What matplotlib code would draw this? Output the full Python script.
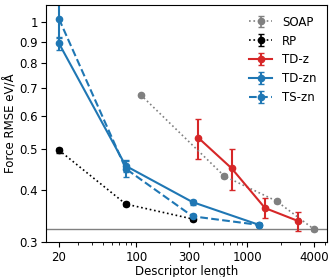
import numpy as np
import matplotlib.pyplot as plt
from matplotlib.ticker import FixedLocator, NullLocator, FixedFormatter

# SOAP
soap_x = [109, 620, 1830, 4000]
soap_y = [0.673, 0.431, 0.376, 0.322]
soap_e = [0.004, 0.004, 0.003, 0.002]
# RP
rp_x = [20, 80, 320]
rp_y = [0.497, 0.370, 0.341]
rp_e = [0.007, 0.004, 0.004]
# TD-z
tdz_x = [360, 720, 1440, 2880]
tdz_y = [0.532, 0.450, 0.362, 0.337]
tdz_e = [0.058, 0.050, 0.020, 0.017]
# TD-zn
tdzn_x = [20, 80, 320, 1280]
tdzn_y = [0.892, 0.456, 0.374, 0.330]
tdzn_e = [0.030, 0.015, 0.005, 0.003]
# TS-zn
tszn_x = [20, 80, 320, 1280]
tszn_y = [1.02, 0.449, 0.346, 0.330]
tszn_e = [0.10, 0.020, 0.005, 0.003]

ref_line = 0.322

yticks = [0.3, 0.4, 0.5, 0.6, 0.7, 0.8, 0.9, 1.0]
ylabels = ['0.3', '0.4', '0.5', '0.6', '0.7', '0.8', '0.9', '1']
xticks = [20, 100, 300, 1000, 4000]
xlabels = ['20', '100', '300', '1000', '4000']

fig = plt.figure(figsize=(3.32, 2.77), dpi=100)
ax = fig.add_axes([0.139, 0.125, 0.846, 0.857])

ax.axhline(ref_line, color='gray', lw=1)
ax.errorbar(soap_x, soap_y, yerr=soap_e, fmt='o:', color='gray', ms=4.5, capsize=2, lw=1.2, label='SOAP')
ax.errorbar(rp_x, rp_y, yerr=rp_e, fmt='o:', color='black', ms=4.5, capsize=2, lw=1.2, label='RP')
ax.errorbar(tdz_x, tdz_y, yerr=tdz_e, fmt='o-', color='tab:red', ms=4.5, capsize=2, lw=1.5, label='TD-z')
ax.errorbar(tdzn_x, tdzn_y, yerr=tdzn_e, fmt='o-', color='tab:blue', ms=4.5, capsize=2, lw=1.5, label='TD-zn')
ax.errorbar(tszn_x, tszn_y, yerr=tszn_e, fmt='o--', color='tab:blue', ms=4.5, capsize=2, lw=1.5, label='TS-zn')

ax.set_xscale('log')
ax.set_yscale('log')
ax.set_ylim(0.3, 1.1)
ax.xaxis.set_major_locator(FixedLocator(xticks))
ax.xaxis.set_major_formatter(FixedFormatter(xlabels))
ax.yaxis.set_major_locator(FixedLocator(yticks))
ax.yaxis.set_major_formatter(FixedFormatter(ylabels))
ax.yaxis.set_minor_locator(NullLocator())
ax.tick_params(labelsize=8.5, pad=2.5)

ax.set_xlabel('Descriptor length', fontsize=8.5, labelpad=1)
ax.set_ylabel('Force RMSE eV/Å', fontsize=8.5, labelpad=1)
ax.legend(loc='upper right', frameon=False, fontsize=8.5)

fig.savefig('out.png', dpi=100)
